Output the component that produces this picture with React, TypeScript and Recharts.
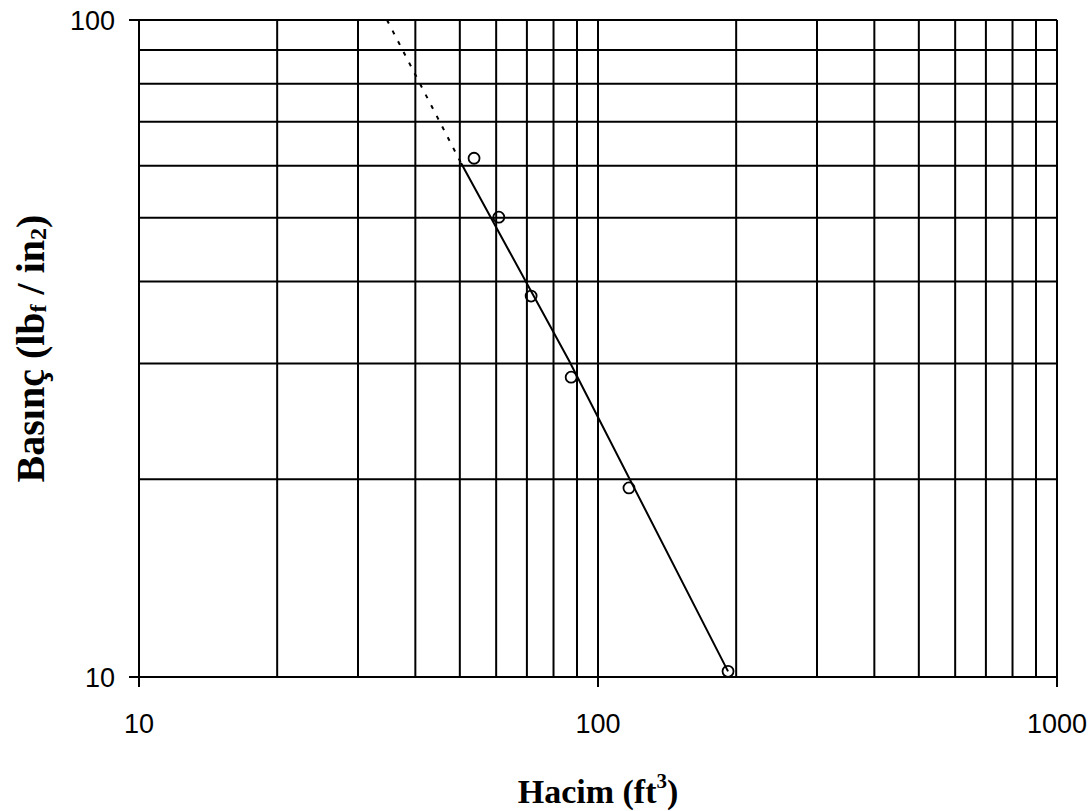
import React from 'react';
import { ComposedChart, XAxis, YAxis, Scatter, Line, ReferenceLine } from 'recharts';

const volumeData = [53.7, 60.8, 71.5, 87.4, 116.8, 192.0];
const pressureData = [61.6, 50.1, 38.0, 28.6, 19.4, 10.2];
const trendVolume = [50.3, 86.5, 192.0];
const trendPressure = [60.6, 30.3, 10.2];
const forecastVolume = [34.7, 50.3];
const forecastPressure = [100, 60.6];
const xTicks = [10, 100, 1000];
const yTicks = [10, 100];
const xGrid = [20, 30, 40, 50, 60, 70, 80, 90, 100, 200, 300, 400, 500, 600, 700, 800, 900, 1000];
const yGrid = [20, 30, 40, 50, 60, 70, 80, 90, 100];

const points = volumeData.map((v, i) => ({ v, p: pressureData[i] }));
const trend = trendVolume.map((v, i) => ({ v, p: trendPressure[i] }));
const forecast = forecastVolume.map((v, i) => ({ v, p: forecastPressure[i] }));

const serif = '"Liberation Serif", "Times New Roman", serif';
const sans = '"Liberation Sans", Arial, sans-serif';

const YLabel = (props: any) => {
  const vb = props.viewBox || { x: 0, y: 20, width: 139, height: 657 };
  const cx = 30;
  const cy = vb.y + vb.height / 2;
  return (
    <text
      x={cx}
      y={cy}
      transform={`rotate(-90 ${cx} ${cy})`}
      textAnchor="middle"
      dominantBaseline="central"
      fontFamily={serif}
      fontWeight="bold"
      fontSize={40}
      fill="#000"
    >
      Basınç (lb<tspan fontSize={24} dy={8}>f</tspan>
      <tspan dy={-8}> / in</tspan>
      <tspan fontSize={24} dy={8}>2</tspan>
      <tspan dy={-8}>)</tspan>
    </text>
  );
};

const XLabel = (props: any) => {
  const vb = props.viewBox || { x: 139, y: 677, width: 918, height: 134 };
  const cx = vb.x + vb.width / 2;
  return (
    <text x={cx} y={803} textAnchor="middle" fontFamily={serif} fontWeight="bold" fontSize={34} fill="#000">
      Hacim (ft<tspan fontSize={21} dy={-15}>3</tspan>
      <tspan dy={15}>)</tspan>
    </text>
  );
};

const OpenCircle = (props: any) => {
  const { cx, cy } = props;
  return <circle cx={cx} cy={cy} r={5.5} fill="none" stroke="#000" strokeWidth={1.8} />;
};

export default function App() {
  return (
    <div style={{ position: 'absolute', left: 0, top: 0, background: '#fff' }}>
      <ComposedChart width={1091} height={811} margin={{ top: 20, right: 34, bottom: 0, left: 0 }}>
        {yGrid.map((y) => (
          <ReferenceLine key={'h' + y} y={y} stroke="#000" strokeWidth={2} ifOverflow="extendDomain" />
        ))}
        {xGrid.map((x) => (
          <ReferenceLine key={'v' + x} x={x} stroke="#000" strokeWidth={2} ifOverflow="extendDomain" />
        ))}
        <XAxis
          type="number"
          dataKey="v"
          scale="log"
          domain={[10, 1000]}
          ticks={xTicks}
          allowDataOverflow
          height={134}
          tickSize={10}
          tickMargin={27}
          axisLine={{ stroke: '#000', strokeWidth: 2 }}
          tickLine={{ stroke: '#000', strokeWidth: 2 }}
          tick={{ fill: '#000', fontFamily: sans, fontSize: 27 }}
          label={<XLabel />}
        />
        <YAxis
          type="number"
          dataKey="p"
          scale="log"
          domain={[10, 100]}
          ticks={yTicks}
          allowDataOverflow
          width={139}
          tickSize={10}
          tickMargin={14}
          axisLine={{ stroke: '#000', strokeWidth: 2 }}
          tickLine={{ stroke: '#000', strokeWidth: 2 }}
          tick={{ fill: '#000', fontFamily: sans, fontSize: 27 }}
          label={<YLabel />}
        />
        <Line
          data={forecast}
          dataKey="p"
          stroke="#000"
          strokeWidth={2}
          strokeDasharray="4 8"
          dot={false}
          activeDot={false}
          isAnimationActive={false}
        />
        <Line
          data={trend}
          dataKey="p"
          stroke="#000"
          strokeWidth={2}
          dot={false}
          activeDot={false}
          isAnimationActive={false}
        />
        <Scatter data={points} dataKey="p" shape={<OpenCircle />} isAnimationActive={false} />
      </ComposedChart>
    </div>
  );
}
